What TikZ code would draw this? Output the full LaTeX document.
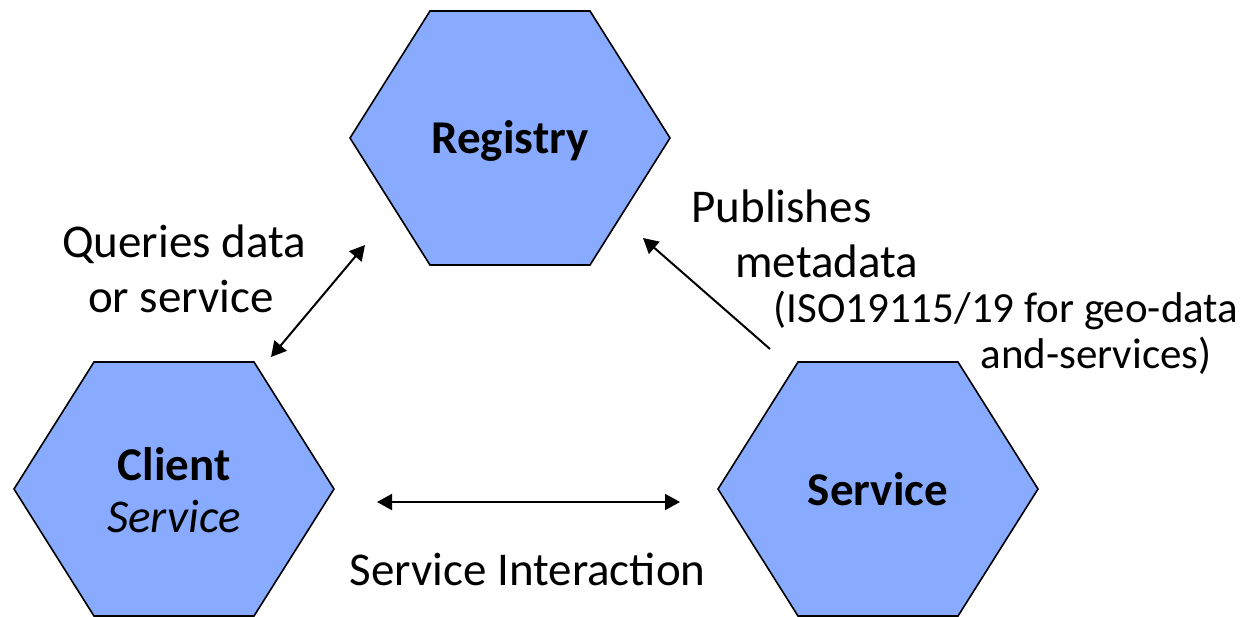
\documentclass[tikz,border=0pt]{standalone}
\usepackage{fontspec}
\setmainfont{Carlito}
\usetikzlibrary{arrows.meta}

\definecolor{cellblue}{RGB}{136,170,255}
\newcommand\labelsize{\fontsize{23.5}{27.5}\selectfont}
\newcommand\notesize{\fontsize{21.5}{25}\selectfont}

\tikzset{
  hexcell/.pic={
    \draw[line width=0.8pt, fill=cellblue, line join=miter]
      (-160,0) -- (-80,127) -- (80,127) -- (160,0) -- (80,-127) -- (-80,-127) -- cycle;
  },
  celltitle/.style={inner sep=0pt, anchor=base, font=\labelsize\bfseries},
  cellrole/.style={inner sep=0pt, anchor=base, font=\labelsize\itshape},
  caption/.style={inner sep=0pt, font=\labelsize},
  note/.style={inner sep=0pt, anchor=base west, font=\notesize},
  link/.style={line width=1pt, {Triangle[length=7.5pt, width=8pt]}-{Triangle[length=7.5pt, width=8pt]}},
  onelink/.style={line width=1pt, -{Triangle[length=7.5pt, width=8pt]}}
}

\begin{document}
\begin{tikzpicture}[x=0.5pt, y=-0.5pt]
  \useasboundingbox (0,0) rectangle (1245,616);
  \clip (0,0) rectangle (1245,616);

  % the three hexagonal cells
  \pic at (510,138) {hexcell};
  \pic at (174,489) {hexcell};
  \pic at (878,489) {hexcell};

  \node[celltitle] (registry) at (510,153) {Registry};
  \node[celltitle] (client) at (174,480) {Client};
  \node[cellrole]  (clientrole) at (174,532) {Service};
  \node[celltitle] (service) at (878,505) {Service};

  % connector end points
  \coordinate (cq) at (271,357);
  \coordinate (rq) at (365,245);
  \coordinate (sp) at (770,349);
  \coordinate (rp) at (643,238);
  \coordinate (ci) at (377,502);
  \coordinate (si) at (680,502);

  \draw[link] (cq) -- (rq);
  \draw[onelink] (sp) -- (rp);
  \draw[link] (ci) -- (si);

  % labels
  \node[caption, anchor=base] (queries1) at (184,257) {Queries data};
  \node[caption, anchor=base] (queries2) at (181,312) {or service};

  \node[caption, anchor=base west] (publishes1) at (691,222) {Publishes};
  \node[caption, anchor=base west] (publishes2) at (735,277) {metadata};
  \node[note] (iso1) at (773,322) {(ISO19115/19 for geo-data};
  \node[note] (iso2) at (980,368) {and-services)};

  \node[caption, anchor=base] (interaction) at (527.5,585) {Service Interaction};
\end{tikzpicture}
\end{document}
